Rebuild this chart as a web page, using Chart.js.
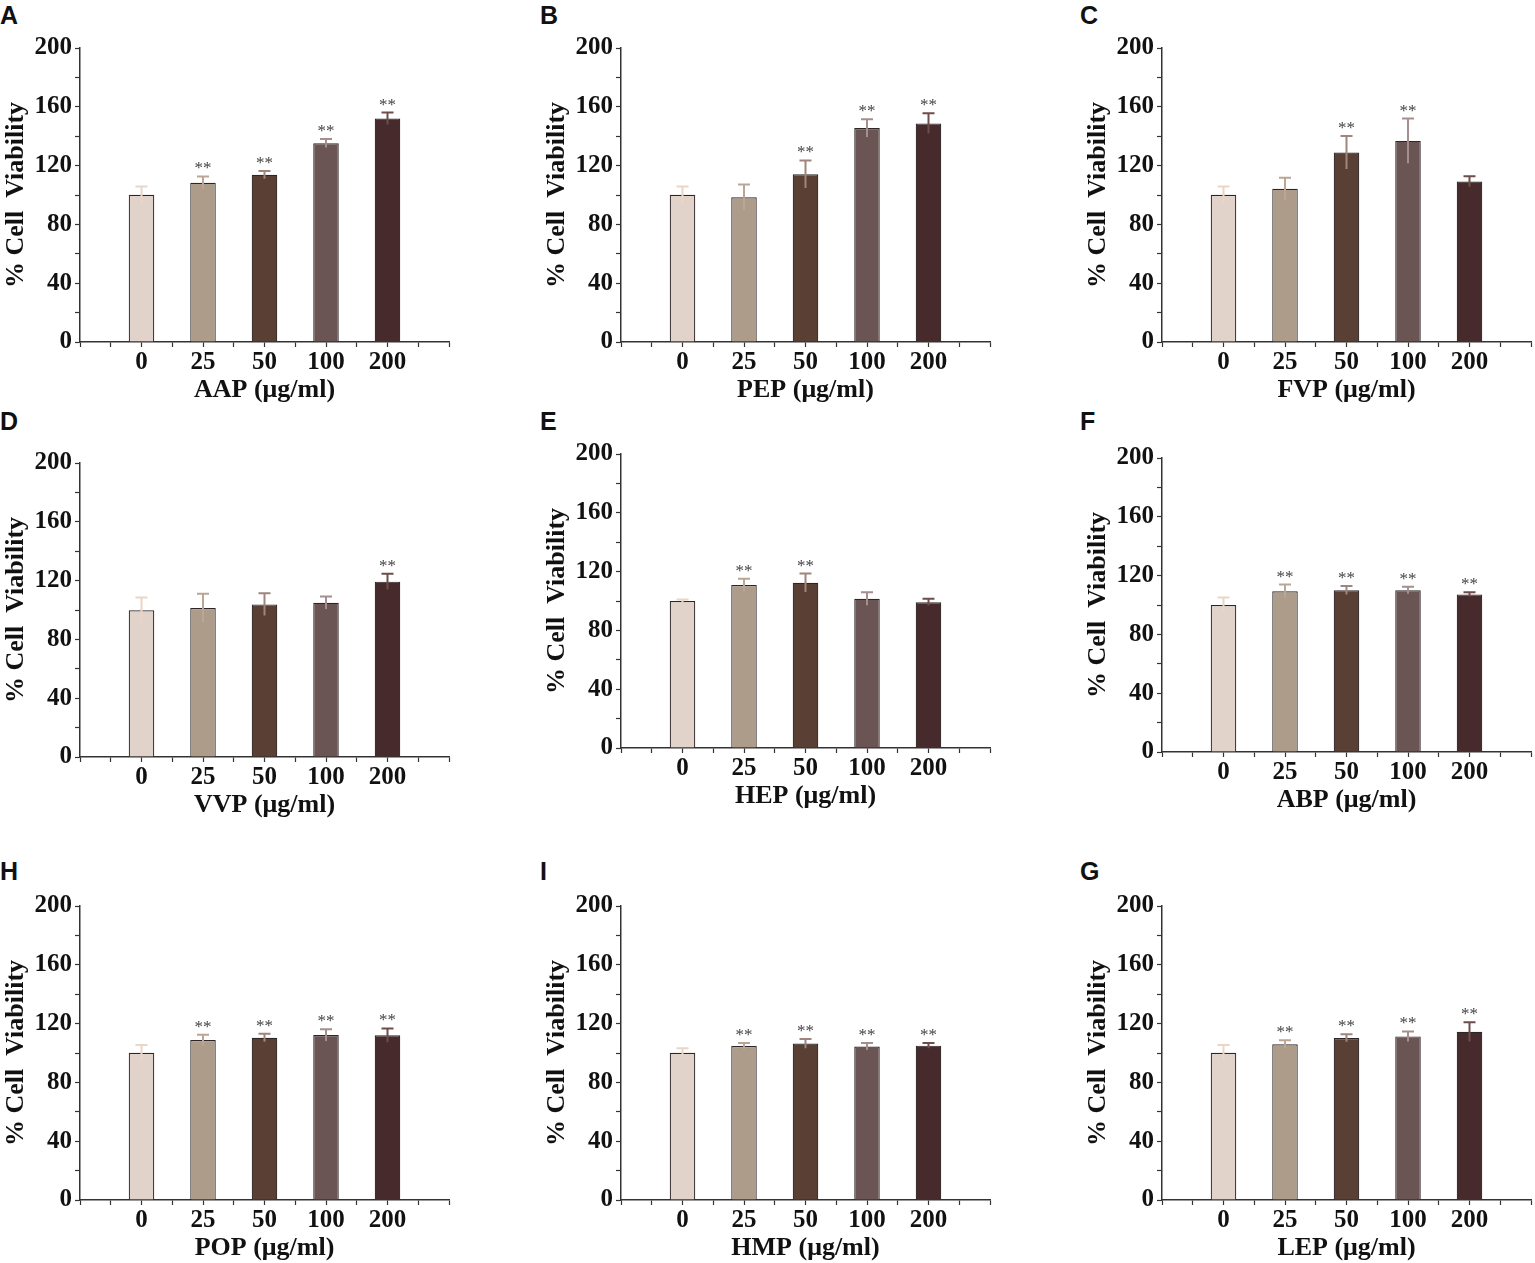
<!DOCTYPE html>
<html>
<head>
<meta charset="utf-8">
<script src="https://cdn.jsdelivr.net/npm/chart.js@4.4.1/dist/chart.umd.min.js"></script>
<style>
body{margin:0;background:#fff;width:1535px;height:1263px;position:relative;overflow:hidden}
canvas{position:absolute}
.lt{position:absolute;font:bold 25px 'Liberation Sans',Arial,sans-serif;line-height:25px;color:#111}
</style>
</head>
<body>
<script>

// doses on the x axis
const doses=['0','25','50','100','200']

// mean % viability, error (SD) and significance (**) per extract
const aapMean=[100.2,108.3,113.7,135.2,152.0], aapErr=[5.6,4.3,2.7,2.9,4.1], aapSig=[0,1,1,1,1]
const pepMean=[100.2,98.4,114.1,145.5,148.7], pepErr=[5.6,8.8,9.4,6.1,6.9], pepSig=[0,0,1,1,1]
const fvpMean=[100.2,104.3,128.9,136.8,109.2], fvpErr=[5.6,7.4,11.2,15.2,3.6], fvpSig=[0,0,1,1,0]
const vvpMean=[99.8,101.3,103.8,104.9,119.3], vvpErr=[8.7,9.7,7.6,4.3,5.4], vvpSig=[0,0,0,0,1]
const hepMean=[100.0,110.9,112.4,101.5,99.2], hepErr=[1.1,4.2,6.3,4.4,2.3], hepSig=[0,1,1,0,0]
const abpMean=[100.0,109.4,110.1,110.1,107.2], abpErr=[5.1,4.5,2.9,2.4,1.5], abpSig=[0,1,1,1,1]
const popMean=[100.1,108.8,110.4,112.2,112.0], popErr=[5.4,3.6,2.7,4.0,4.7], popSig=[0,1,1,1,1]
const hmpMean=[100.1,104.8,106.4,104.4,105.0], hmpErr=[3.1,2.0,3.1,2.4,1.8], hmpSig=[0,1,1,1,1]
const lepMean=[100.1,105.9,110.2,111.3,114.4], lepErr=[5.4,2.7,2.5,3.4,6.5], lepSig=[0,1,1,1,1]

const yTicks=[0,40,80,120,160,200]

const barColors=['#e2d3ca','#ae9c8a','#5a3f35','#6b5454','#472a2c']
const errColors=['#ead6c6','#bba594','#9f857b','#a58f8e','#6e4e4c']

const panels=[
{letter:'A',name:'AAP',mean:aapMean,err:aapErr,sig:aapSig,ax:80,top:44,lx:0,ly:3},
{letter:'B',name:'PEP',mean:pepMean,err:pepErr,sig:pepSig,ax:621,top:44,lx:540,ly:3},
{letter:'C',name:'FVP',mean:fvpMean,err:fvpErr,sig:fvpSig,ax:1162,top:44,lx:1080,ly:3},
{letter:'D',name:'VVP',mean:vvpMean,err:vvpErr,sig:vvpSig,ax:80,top:459,lx:0,ly:409},
{letter:'E',name:'HEP',mean:hepMean,err:hepErr,sig:hepSig,ax:621,top:450,lx:540,ly:409},
{letter:'F',name:'ABP',mean:abpMean,err:abpErr,sig:abpSig,ax:1162,top:454,lx:1080,ly:409},
{letter:'H',name:'POP',mean:popMean,err:popErr,sig:popSig,ax:80,top:902,lx:0,ly:859},
{letter:'I',name:'HMP',mean:hmpMean,err:hmpErr,sig:hmpSig,ax:621,top:902,lx:540,ly:859},
{letter:'G',name:'LEP',mean:lepMean,err:lepErr,sig:lepSig,ax:1162,top:902,lx:1080,ly:859}
]

const serif="'Liberation Serif','Times New Roman',serif"
const PAD_TOP=14, PLOT_H=298, X_H=64, Y_W=80, PLOT_W=369, PAD_R=4

function errPlugin(p){
return{
id:'err'+p.letter,
afterDatasetsDraw(chart){
let ctx=chart.ctx
let ys=chart.scales.y
let meta=chart.getDatasetMeta(0)
meta.data.forEach((bar,i)=>{
let v=p.mean[i],e=p.err[i]
let t=ys.getPixelForValue(v+e)
let b=ys.getPixelForValue(v-e)
ctx.save()
ctx.strokeStyle=errColors[i]
ctx.lineWidth=2
ctx.beginPath()
ctx.moveTo(bar.x,b)
ctx.lineTo(bar.x,t)
ctx.moveTo(bar.x-6,t)
ctx.lineTo(bar.x+6,t)
ctx.stroke()
if(p.sig[i]){
ctx.fillStyle='#444'
ctx.font='17px '+serif
ctx.textAlign='center'
ctx.textBaseline='alphabetic'
ctx.fillText('**',bar.x,t-3)
}
ctx.restore()
})
}
}
}

panels.forEach(p=>{

let lt=document.createElement('div')
lt.className='lt'
lt.style.left=p.lx+'px'
lt.style.top=p.ly+'px'
lt.innerText=p.letter
document.body.appendChild(lt)

let cv=document.createElement('canvas')
cv.width=Y_W+PLOT_W+PAD_R
cv.height=PAD_TOP+PLOT_H+X_H
cv.style.left=(p.ax-Y_W)+'px'
cv.style.top=(p.top-PAD_TOP)+'px'
document.body.appendChild(cv)

new Chart(cv,{
type:'bar',
data:{
datasets:[{
data:p.mean.map((v,i)=>({x:i+1,y:v})),
backgroundColor:barColors,
borderColor:'#2e2626',
borderWidth:1.2,
barPercentage:0.83,
categoryPercentage:1
}]
},
options:{
responsive:false,
animation:false,
events:[],
layout:{padding:{top:PAD_TOP,right:PAD_R,left:0,bottom:0}},
plugins:{legend:{display:false},tooltip:{enabled:false}},
scales:{
x:{
type:'linear',
min:0,max:6,
offset:false,
afterFit:s=>{s.height=X_H},
grid:{display:true,drawOnChartArea:false,drawTicks:true,tickLength:5,tickColor:'#333',tickWidth:1.2,offset:false},
border:{display:true,color:'#333',width:1.5},
ticks:{
stepSize:0.5,autoSkip:false,maxRotation:0,padding:1,
color:'#111',font:{family:serif,size:25,weight:'bold'},
callback:v=>(Number.isInteger(v)&&v>=1&&v<=5)?doses[v-1]:''
},
title:{display:true,text:p.name+' (μg/ml)',color:'#111',font:{family:serif,size:26,weight:'bold'},padding:{top:0,bottom:0}}
},
y:{
min:0,max:200,
afterFit:s=>{s.width=Y_W},
grid:{display:true,drawOnChartArea:false,drawTicks:true,tickLength:5,tickColor:'#333',tickWidth:1.2},
border:{display:true,color:'#333',width:1.5},
ticks:{
stepSize:20,autoSkip:false,padding:3,
color:'#111',font:{family:serif,size:25,weight:'bold'},
callback:v=>yTicks.includes(v)?String(v):''
},
title:{display:true,text:'% Cell  Viability',color:'#111',font:{family:serif,size:26,weight:'bold'},padding:{top:1,bottom:0}}
}
}
},
plugins:[errPlugin(p)]
})

})

</script>
</body>
</html>
